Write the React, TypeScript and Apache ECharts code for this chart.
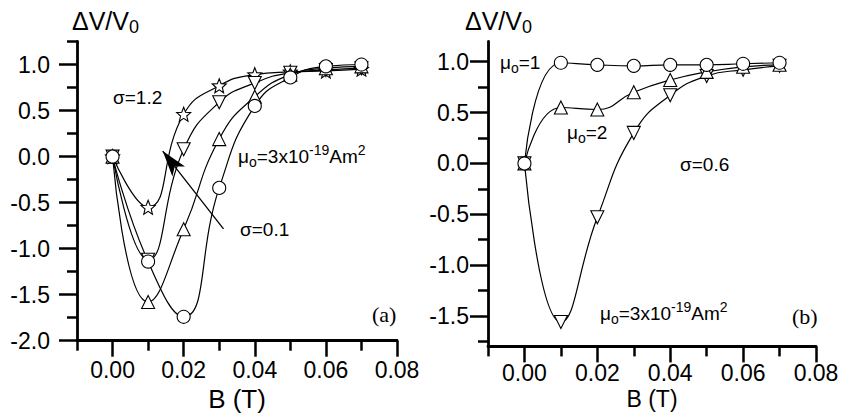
import React, { useEffect, useRef } from 'react';
import * as echarts from 'echarts';

// x values (B in tesla)
const B = [0, 0.01, 0.02, 0.03, 0.04, 0.05, 0.06, 0.07];

// Panel (a): mu0 = 3e-19 Am^2, sigma from 1.2 (stars) down to 0.1 (circles)
const aStar = [0, -0.55, 0.46, 0.77, 0.89, 0.92, 0.93, 0.95];
const aDown = [0, -1.12, 0.08, 0.59, 0.8, 0.91, 0.94, 0.96];
const aUp = [0, -1.58, -0.79, 0.19, 0.65, 0.89, 0.96, 0.98];
const aCircle = [0, -1.14, -1.74, -0.34, 0.55, 0.86, 0.98, 1.0];

// Panel (b): sigma = 0.6, mu0 = 1, 2, 3 (x1e-19 Am^2)
const bCircle = [0, 0.99, 0.97, 0.96, 0.97, 0.97, 0.98, 0.99];
const bUp = [0, 0.55, 0.53, 0.7, 0.82, 0.9, 0.95, 0.97];
const bDown = [0, -1.56, -0.53, 0.3, 0.67, 0.86, 0.92, 0.96];

// arrow in panel (a): from sigma=0.1 towards sigma=1.2
const arrowFrom = [0.0312, -0.785];
const arrowTo = [0.0141, 0.06];

// tick values
const xMajor = [0, 0.02, 0.04, 0.06, 0.08];
const xMinor = [-0.01, 0.01, 0.03, 0.05, 0.07];
const aYMajor = [-2, -1.5, -1, -0.5, 0, 0.5, 1];
const aYMinor = [-1.75, -1.25, -0.75, -0.25, 0.25, 0.75, 1.25];
const bYMajor = [-1.5, -1, -0.5, 0, 0.5, 1];
const bYMinor = [-1.75, -1.25, -0.75, -0.25, 0.25, 0.75];

const STAR = 'path://M50 0 L62.93 32.2 L97.55 34.55 L70.92 56.8 L79.39 90.45 L50 72 L20.61 90.45 L29.08 56.8 L2.45 34.55 L37.07 32.2 Z';
const FONT = "'Liberation Sans', Arial, sans-serif";
const SERIF = "'Liberation Serif', 'Times New Roman', serif";

const axisLineStyle = { color: '#000', width: 2.8 };
const tickLine = { color: '#000', width: 2.5 };

function xAxes(gridIndex: number, labelMargin: number, nameGap: number, nameSize: number) {
  return [
    {
      type: 'value', gridIndex, min: -0.01, max: 0.08, position: 'bottom',
      name: 'B (T)', nameLocation: 'middle', nameGap, nameMoveOverlap: false,
      nameTextStyle: { fontSize: nameSize, fontFamily: FONT, color: '#000', verticalAlign: 'top' },
      axisLine: { show: true, onZero: false, lineStyle: axisLineStyle },
      axisTick: { show: true, customValues: xMajor, length: 16, lineStyle: tickLine },
      axisLabel: { show: true, customValues: xMajor, margin: labelMargin, fontSize: 23, fontFamily: FONT, color: '#000', formatter: (v: number) => v.toFixed(2) },
      splitLine: { show: false },
    },
    {
      type: 'value', gridIndex, min: -0.01, max: 0.08, position: 'bottom',
      axisLine: { show: false, onZero: false },
      axisTick: { show: true, customValues: xMinor, length: 10, lineStyle: tickLine },
      axisLabel: { show: false },
      splitLine: { show: false },
    },
  ];
}

function yAxes(gridIndex: number, min: number, max: number, major: number[], minor: number[], margin: number) {
  return [
    {
      type: 'value', gridIndex, min, max, position: 'left',
      axisLine: { show: true, onZero: false, lineStyle: axisLineStyle },
      axisTick: { show: true, customValues: major, length: 18, lineStyle: tickLine },
      axisLabel: { show: true, customValues: major, margin, fontSize: 23, fontFamily: FONT, color: '#000', formatter: (v: number) => v.toFixed(1) },
      splitLine: { show: false },
    },
    {
      type: 'value', gridIndex, min, max, position: 'left',
      axisLine: { show: false, onZero: false },
      axisTick: { show: true, customValues: minor, length: 10, lineStyle: tickLine },
      axisLabel: { show: false },
      splitLine: { show: false },
    },
  ];
}

function line(values: number[], symbol: string, rotate: number, xi: number, yi: number, extra: any = {}) {
  return {
    type: 'line',
    xAxisIndex: xi,
    yAxisIndex: yi,
    data: B.map((b, i) => [b, values[i]]),
    smooth: 0.5,
    symbol,
    symbolRotate: rotate,
    symbolSize: symbol === STAR ? 14 : 13,
    showAllSymbol: true,
    lineStyle: { color: '#000', width: 1.2 },
    itemStyle: { color: '#fff', borderColor: '#000', borderWidth: 1.1 },
    emphasis: { disabled: true },
    ...extra,
  };
}

const base = { fontFamily: FONT, fill: '#000' };
const muRich = {
  a: { ...base, fontSize: 19, lineHeight: 26 },
  sub: { ...base, fontSize: 14, lineHeight: 14, verticalAlign: 'bottom' },
  sup: { ...base, fontSize: 14, lineHeight: 14, verticalAlign: 'top' },
};
const titleRich = {
  a: { ...base, fontSize: 25, lineHeight: 30 },
  sub: { ...base, fontSize: 18, lineHeight: 18, verticalAlign: 'bottom' },
};

function txt(x: number, y: number, text: string, rich: any = null, extraStyle: any = {}) {
  return {
    type: 'text', x, y, silent: true,
    style: { text, align: 'left', verticalAlign: 'middle', ...base, fontSize: 19, ...(rich ? { rich } : {}), ...extraStyle },
  };
}

export default function App() {
  const ref = useRef<HTMLDivElement>(null);
  useEffect(() => {
    if (!ref.current) return;
    const chart = echarts.init(ref.current, null, { renderer: 'svg' });
    const option: any = {
      animation: false,
      backgroundColor: '#fff',
      textStyle: { fontFamily: FONT },
      grid: [
        { left: 77, top: 41.5, width: 320, height: 299.2, containLabel: false, outerBoundsMode: 'none' },
        { left: 488, top: 41.4, width: 328, height: 305, containLabel: false, outerBoundsMode: 'none' },
      ],
      xAxis: [...xAxes(0, 18, 45, 26), ...xAxes(1, 15, 41, 23)],
      yAxis: [...yAxes(0, -2, 1.25, aYMajor, aYMinor, 27), ...yAxes(1, -1.8, 1.2, bYMajor, bYMinor, 19)],
      series: [
        line(aStar, STAR, 0, 0, 0, {
          markLine: {
            silent: true,
            animation: false,
            label: { show: false },
            lineStyle: { color: '#000', width: 1.3, type: 'solid' },
            emphasis: { disabled: true },
            data: [[
              { coord: arrowFrom, symbol: 'none' },
              { coord: arrowTo, symbol: 'arrow', symbolSize: [12, 26] },
            ]],
          },
        }),
        line(aDown, 'triangle', 180, 0, 0),
        line(aUp, 'triangle', 0, 0, 0),
        line(aCircle, 'circle', 0, 0, 0),
        line(bDown, 'triangle', 180, 2, 2),
        line(bUp, 'triangle', 0, 2, 2),
        line(bCircle, 'circle', 0, 2, 2),
      ],
      graphic: [
        txt(72, 21, '{a|ΔV/V}{sub|0}', titleRich),
        txt(465, 21, '{a|ΔV/V}{sub|0}', titleRich),
        txt(113, 97, 'σ=1.2'),
        txt(238, 156, '{a|μ}{sub|o}{a|=3x10}{sup|-19}{a|Am}{sup|2}', muRich),
        txt(240, 229, 'σ=0.1'),
        txt(372, 314, '(a)', null, { fontFamily: SERIF, fontSize: 22 }),
        txt(500, 62, '{a|μ}{sub|o}{a|=1}', muRich),
        txt(567, 132, '{a|μ}{sub|o}{a|=2}', muRich),
        txt(680, 164, 'σ=0.6'),
        txt(600, 313, '{a|μ}{sub|o}{a|=3x10}{sup|-19}{a|Am}{sup|2}', muRich),
        txt(792, 316, '(b)', null, { fontFamily: SERIF, fontSize: 22 }),
      ],
    };
    chart.setOption(option);
    return () => chart.dispose();
  }, []);
  return <div ref={ref} style={{ position: 'absolute', left: 0, top: 0, width: 844, height: 415 }} />;
}
